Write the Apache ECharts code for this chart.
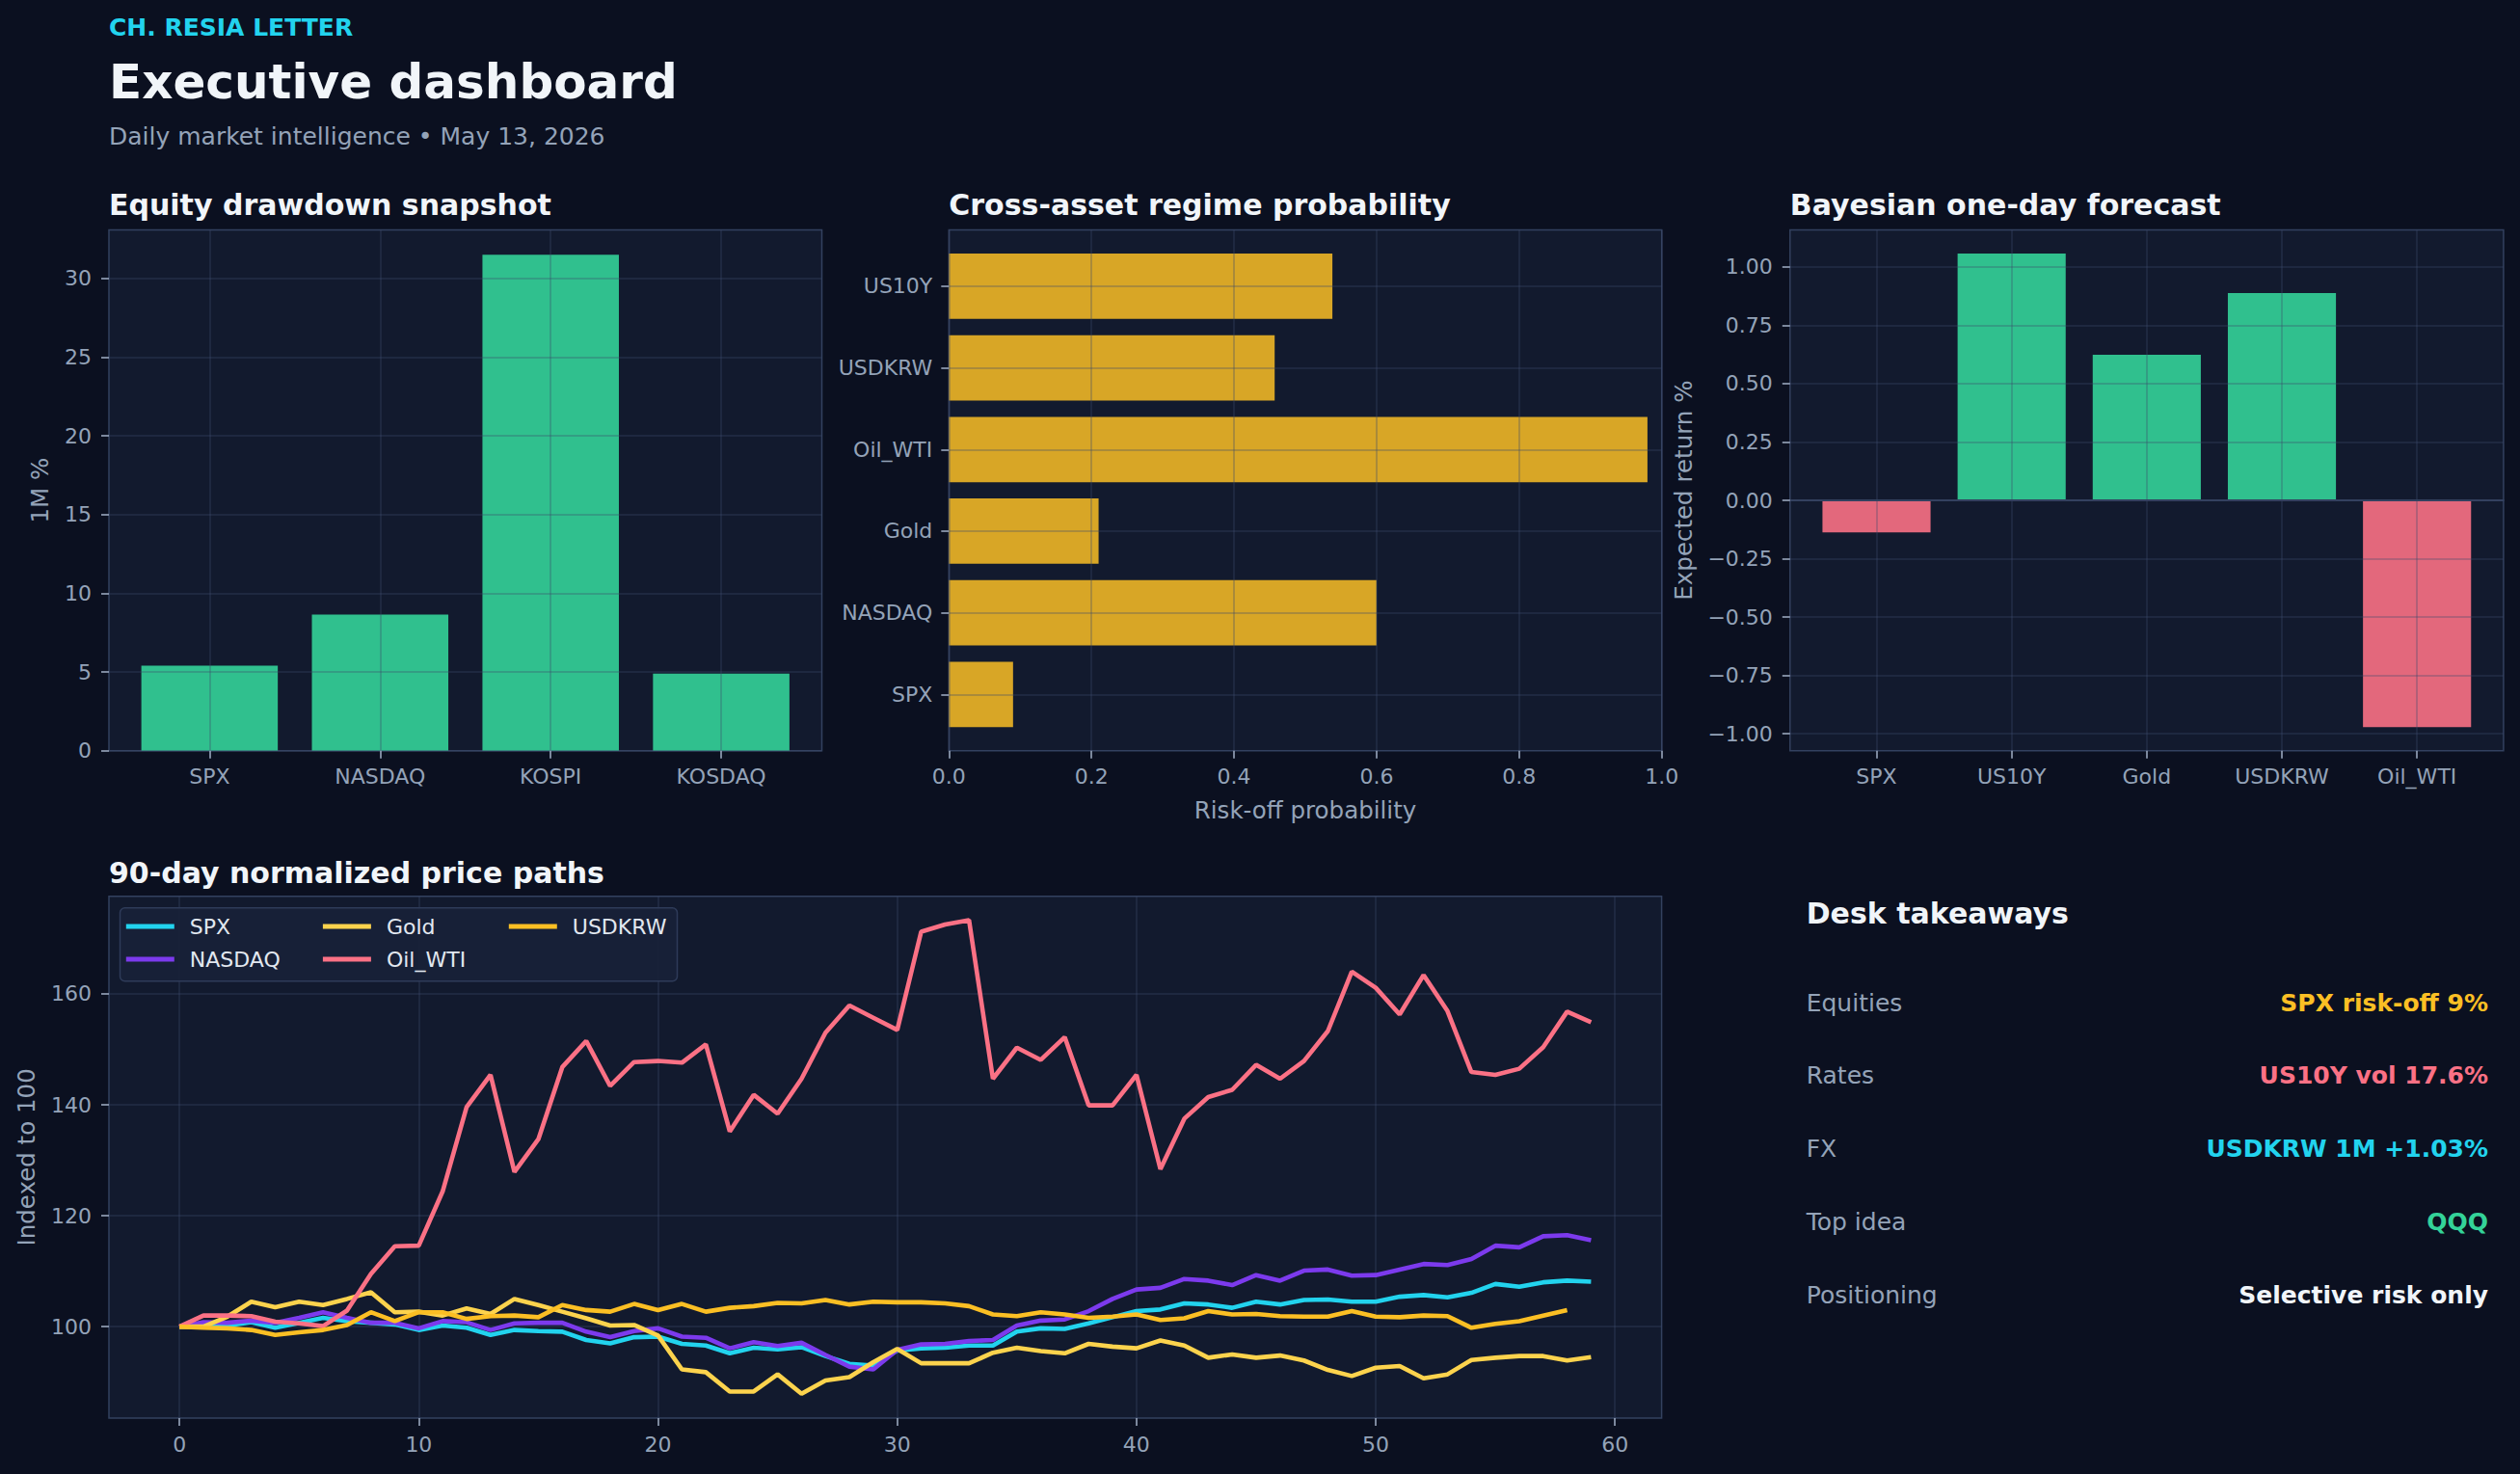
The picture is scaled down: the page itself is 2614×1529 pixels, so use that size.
<!DOCTYPE html>
<html><head><meta charset="utf-8">
<script src="https://cdn.jsdelivr.net/npm/echarts@6/dist/echarts.min.js"></script>
<style>html,body{margin:0;padding:0;background:#0b1020;}#c{width:2614px;height:1529px;}</style>
</head><body><div id="c"></div>
<script>
// ---------- data ----------
const equityCats = ['SPX', 'NASDAQ', 'KOSPI', 'KOSDAQ'];
const equityValues = [5.4, 8.65, 31.5, 4.9];
const equityTicks = [0, 5, 10, 15, 20, 25, 30];

const regimeCats = ['SPX', 'NASDAQ', 'Gold', 'Oil_WTI', 'USDKRW', 'US10Y'];
const regimeValues = [0.09, 0.60, 0.21, 0.98, 0.457, 0.538];
const regimeTicks = [0, 0.2, 0.4, 0.6, 0.8, 1.0];

const forecastCats = ['SPX', 'US10Y', 'Gold', 'USDKRW', 'Oil_WTI'];
const forecastValues = [-0.137, 1.057, 0.624, 0.888, -0.971];
const forecastTicks = [-1, -0.75, -0.5, -0.25, 0, 0.25, 0.5, 0.75, 1];

const pathTicksX = [0, 10, 20, 30, 40, 50, 60];
const pathTicksY = [100, 120, 140, 160];
const spxPath = [100, 100.1, 100.2, 100.8, 99.8, 100.7, 101.6, 101.0, 100.7, 100.4, 99.4, 100.2, 99.8, 98.5, 99.4, 99.2, 99.1, 97.6, 97.0, 98.1, 98.2, 96.9, 96.6, 95.2, 96.2, 95.9, 96.3, 94.7, 93.3, 93.0, 95.7, 96.1, 96.2, 96.6, 96.6, 99.1, 99.7, 99.6, 100.6, 101.7, 102.8, 103.1, 104.2, 104.0, 103.4, 104.5, 104.0, 104.8, 104.9, 104.5, 104.5, 105.4, 105.7, 105.3, 106.1, 107.7, 107.2, 108.0, 108.3, 108.1];
const nasdaqPath = [100, 100.8, 100.7, 101.1, 100.7, 101.6, 102.6, 101.6, 100.7, 100.7, 99.7, 101.0, 100.8, 99.4, 100.6, 100.7, 100.7, 99.1, 98.1, 99.2, 99.7, 98.2, 98.0, 96.1, 97.2, 96.5, 97.1, 94.9, 92.8, 92.3, 95.8, 96.8, 96.9, 97.4, 97.6, 100.2, 101.1, 101.3, 102.8, 105.0, 106.7, 107.0, 108.6, 108.3, 107.5, 109.3, 108.3, 110.1, 110.3, 109.2, 109.3, 110.3, 111.3, 111.1, 112.2, 114.6, 114.3, 116.3, 116.5, 115.6];
const goldPath = [100, 100.0, 101.8, 104.5, 103.5, 104.5, 103.9, 105.0, 106.2, 102.6, 102.7, 102.0, 103.3, 102.3, 105.0, 103.9, 102.7, 101.5, 100.2, 100.3, 98.4, 92.3, 91.8, 88.3, 88.3, 91.4, 87.9, 90.3, 90.9, 93.6, 96.0, 93.4, 93.4, 93.4, 95.3, 96.2, 95.6, 95.2, 96.9, 96.4, 96.1, 97.5, 96.6, 94.4, 95.0, 94.4, 94.8, 93.9, 92.2, 91.1, 92.6, 92.9, 90.7, 91.4, 94.0, 94.4, 94.7, 94.7, 93.9, 94.5];
const oilPath = [100, 102.0, 102.0, 101.9, 100.9, 100.6, 100.1, 102.9, 109.5, 114.5, 114.6, 124.4, 139.6, 145.4, 127.9, 133.8, 146.8, 151.5, 143.4, 147.7, 147.9, 147.6, 150.9, 135.2, 141.8, 138.4, 144.7, 153.0, 157.9, 155.7, 153.5, 171.2, 172.5, 173.3, 144.7, 150.3, 148.1, 152.2, 139.9, 139.9, 145.4, 128.4, 137.5, 141.4, 142.7, 147.2, 144.7, 147.9, 153.3, 164.0, 161.1, 156.3, 163.4, 156.9, 145.9, 145.4, 146.5, 150.4, 156.8, 154.9];
const usdkrwPath = [100, 99.8, 99.7, 99.4, 98.5, 99.0, 99.4, 100.3, 102.6, 101.0, 102.6, 102.6, 101.4, 101.9, 102.0, 101.7, 103.9, 103.0, 102.7, 104.1, 103.0, 104.1, 102.7, 103.4, 103.7, 104.3, 104.2, 104.8, 104.0, 104.5, 104.4, 104.4, 104.2, 103.7, 102.2, 101.9, 102.6, 102.2, 101.6, 101.8, 102.2, 101.2, 101.5, 102.8, 102.2, 102.3, 101.9, 101.8, 101.8, 102.8, 101.8, 101.7, 102.0, 101.9, 99.8, 100.5, 101.0, 102.0, 103.0];

const takeawayLabels = ['Equities', 'Rates', 'FX', 'Top idea', 'Positioning'];
const takeawayValues = ['SPX risk-off 9%', 'US10Y vol 17.6%', 'USDKRW 1M +1.03%', 'QQQ', 'Selective risk only'];

// ---------- style ----------
const FONT = '"DejaVu Sans", sans-serif';
const LBL = { color: '#94a3b8', fontSize: 22, fontFamily: FONT };
const TICKSTYLE = { length: 8, lineStyle: { color: '#a3b0c7', width: 1.5 } };
const SPLIT = { show: true, lineStyle: { color: 'rgba(59,74,107,0.4)', width: 1.5 } };
const NAME = { color: '#94a3b8', fontSize: 24.5, fontFamily: FONT };
const NOLINE = { show: false, onZero: false };
const GRIDBOX = { show: true, backgroundColor: '#121a2e', borderColor: '#33415f', borderWidth: 1.5 };
const GREEN = 'rgba(52,211,153,0.9)';
const RED = 'rgba(251,113,133,0.9)';
const takeawayColors = ['#fbbf24', '#fb7185', '#22d3ee', '#34d399', '#f1f5f9'];
const pathColors = { SPX: '#22d3ee', NASDAQ: '#7c3aed', Gold: '#fcd34d', Oil_WTI: '#fb7185', USDKRW: '#fbbf24' };

function inList(list, v) { return list.some(t => Math.abs(t - v) < 1e-6); }
function fmtSigned(v) { if (Math.abs(v) < 1e-9) return '0.00'; return (v < 0 ? '\u2212' : '') + Math.abs(v).toFixed(2); }

// layout (px)
const P1 = { left: 113, top: 238.5, width: 739.5, height: 540.2 };
const P2 = { left: 984.3, top: 238.5, width: 739.4, height: 540.2 };
const P3 = { left: 1856.8, top: 238.5, width: 740.1, height: 540.2 };
const P4 = { left: 113, top: 929.7, width: 1610.6, height: 541.4 };
const u1 = P1.width / 4.18, u2 = P2.height / 6.38, u3 = P3.width / 5.28;

const chart = echarts.init(document.getElementById('c'), null, { renderer: 'svg', width: 2614, height: 1529 });

const pathSeries = [
  ['SPX', spxPath], ['NASDAQ', nasdaqPath], ['Gold', goldPath], ['Oil_WTI', oilPath], ['USDKRW', usdkrwPath]
].map(([name, arr]) => ({
  type: 'line', name, xAxisIndex: 6, yAxisIndex: 6,
  data: arr.map((v, i) => [i, v]),
  symbol: 'none', showSymbol: false,
  lineStyle: { width: 4.6, color: pathColors[name] },
  itemStyle: { color: pathColors[name] },
  emphasis: { disabled: true }
}));

const legendBase = {
  orient: 'vertical', top: 950, itemWidth: 50, itemHeight: 5, itemGap: 12, icon: 'rect', padding: 0,
  selectedMode: false, z: 20,
  textStyle: { color: '#e2e8f0', fontSize: 22, fontFamily: FONT, padding: [0, 0, 0, 11] }
};

const titleText = (x, y, text) => ({
  type: 'text', x, y, silent: true, z: 100,
  style: { text, fill: '#f1f5f9', fontSize: 30, fontWeight: 'bold', fontFamily: FONT, verticalAlign: 'middle', align: 'left' }
});

const graphics = [
  { type: 'text', x: 113, y: 28.8, silent: true, style: { text: 'CH. RESIA LETTER', fill: '#22d3ee', fontSize: 25, fontWeight: 'bold', fontFamily: FONT, verticalAlign: 'middle' } },
  { type: 'text', x: 113, y: 85, silent: true, style: { text: 'Executive dashboard', fill: '#f1f5f9', fontSize: 50, fontWeight: 'bold', fontFamily: FONT, verticalAlign: 'middle' } },
  { type: 'text', x: 113, y: 141, silent: true, style: { text: 'Daily market intelligence \u2022 May 13, 2026', fill: '#94a3b8', fontSize: 25, fontFamily: FONT, verticalAlign: 'middle' } },
  titleText(113, 212, 'Equity drawdown snapshot'),
  titleText(984.3, 212, 'Cross-asset regime probability'),
  titleText(1856.8, 212, 'Bayesian one-day forecast'),
  titleText(113, 905, '90-day normalized price paths'),
  titleText(1873.7, 947.5, 'Desk takeaways'),
  { type: 'rect', silent: true, z: 10, shape: { x: 124.5, y: 941.7, width: 578, height: 76, r: 5 },
    style: { fill: 'rgba(24,33,56,0.95)', stroke: '#2e3b59', lineWidth: 1.5 } }
];
takeawayLabels.forEach((lab, i) => {
  const y = 1040 + i * 75.75;
  graphics.push({ type: 'text', x: 1873.7, y, silent: true, style: { text: lab, fill: '#94a3b8', fontSize: 25, fontFamily: FONT, verticalAlign: 'middle', align: 'left' } });
  graphics.push({ type: 'text', x: 2581, y, silent: true, style: { text: takeawayValues[i], fill: takeawayColors[i], fontSize: 25, fontWeight: 'bold', fontFamily: FONT, verticalAlign: 'middle', align: 'right' } });
});

const option = {
  backgroundColor: '#0b1020',
  animation: false,
  textStyle: { fontFamily: FONT },
  grid: [
    Object.assign({}, P1, GRIDBOX),
    { left: P1.left + 0.59 * u1, top: P1.top, width: 3 * u1, height: P1.height },
    Object.assign({}, P2, GRIDBOX),
    { left: P2.left, top: P2.top + 0.69 * u2, width: P2.width, height: 5 * u2 },
    Object.assign({}, P3, GRIDBOX),
    { left: P3.left + 0.64 * u3, top: P3.top, width: 4 * u3, height: P3.height },
    Object.assign({}, P4, GRIDBOX)
  ],
  xAxis: [
    { gridIndex: 0, type: 'value', min: 0, max: 1, show: false },
    { gridIndex: 1, type: 'category', data: equityCats, boundaryGap: false, z: 3,
      axisLine: NOLINE, axisTick: Object.assign({ show: true }, TICKSTYLE),
      axisLabel: Object.assign({ margin: 16, interval: 0 }, LBL), splitLine: SPLIT },
    { gridIndex: 2, type: 'value', min: 0, max: 1, interval: 0.2, z: 3,
      axisLine: NOLINE, axisTick: Object.assign({ show: true, customValues: regimeTicks }, TICKSTYLE),
      axisLabel: Object.assign({ margin: 16, customValues: regimeTicks, formatter: v => v.toFixed(1) }, LBL),
      splitLine: SPLIT,
      name: 'Risk-off probability', nameLocation: 'middle', nameGap: 49, nameTextStyle: NAME },
    { gridIndex: 3, type: 'value', min: 0, max: 1, show: false },
    { gridIndex: 4, type: 'value', min: 0, max: 1, z: 3,
      axisLine: { show: true, onZero: true, lineStyle: { color: '#33415f', width: 2 } },
      axisTick: { show: false }, axisLabel: { show: false }, splitLine: { show: false } },
    { gridIndex: 5, type: 'category', data: forecastCats, boundaryGap: false, z: 3,
      axisLine: NOLINE, axisTick: Object.assign({ show: true }, TICKSTYLE),
      axisLabel: Object.assign({ margin: 16, interval: 0 }, LBL), splitLine: SPLIT },
    { gridIndex: 6, type: 'value', min: -2.95, max: 61.95, minInterval: 10, maxInterval: 10,
      axisLine: NOLINE, axisTick: Object.assign({ show: true, customValues: pathTicksX }, TICKSTYLE),
      axisLabel: Object.assign({ margin: 16, customValues: pathTicksX, formatter: v => inList(pathTicksX, v) ? String(Math.round(v)) : '' }, LBL),
      splitLine: SPLIT }
  ],
  yAxis: [
    { gridIndex: 0, type: 'value', min: 0, max: 33.075, minInterval: 5, maxInterval: 5, z: 3,
      axisLine: NOLINE, axisTick: Object.assign({ show: true, customValues: equityTicks }, TICKSTYLE),
      axisLabel: Object.assign({ margin: 18, customValues: equityTicks, formatter: v => inList(equityTicks, v) ? String(Math.round(v)) : '' }, LBL),
      splitLine: SPLIT,
      name: '1M %', nameLocation: 'middle', nameGap: 59, nameTextStyle: NAME },
    { gridIndex: 1, type: 'value', min: 0, max: 33.075, show: false },
    { gridIndex: 2, type: 'value', min: 0, max: 1, show: false },
    { gridIndex: 3, type: 'category', data: regimeCats, boundaryGap: false, z: 3,
      axisLine: NOLINE, axisTick: Object.assign({ show: true }, TICKSTYLE),
      axisLabel: Object.assign({ margin: 17, interval: 0 }, LBL), splitLine: SPLIT },
    { gridIndex: 4, type: 'value', min: -1.0724, max: 1.1584, minInterval: 0.25, maxInterval: 0.25, z: 3,
      axisLine: NOLINE, axisTick: Object.assign({ show: true, customValues: forecastTicks }, TICKSTYLE),
      axisLabel: Object.assign({ margin: 18, customValues: forecastTicks, formatter: v => inList(forecastTicks, v) ? fmtSigned(v) : '' }, LBL),
      splitLine: SPLIT,
      name: 'Expected return %', nameLocation: 'middle', nameGap: 97.5, nameTextStyle: NAME },
    { gridIndex: 5, type: 'value', min: -1.0724, max: 1.1584, show: false },
    { gridIndex: 6, type: 'value', min: 83.5, max: 177.6, minInterval: 20, maxInterval: 20,
      axisLine: NOLINE, axisTick: Object.assign({ show: true, customValues: pathTicksY }, TICKSTYLE),
      axisLabel: Object.assign({ margin: 18, customValues: pathTicksY, formatter: v => inList(pathTicksY, v) ? String(Math.round(v)) : '' }, LBL),
      splitLine: SPLIT,
      name: 'Indexed to 100', nameLocation: 'middle', nameGap: 73, nameTextStyle: NAME }
  ],
  legend: [
    Object.assign({}, legendBase, { left: 130.8, data: ['SPX', 'NASDAQ'] }),
    Object.assign({}, legendBase, { left: 334.9, data: ['Gold', 'Oil_WTI'] }),
    Object.assign({}, legendBase, { left: 527.8, data: ['USDKRW'] })
  ],
  series: [
    { type: 'bar', xAxisIndex: 1, yAxisIndex: 1, data: equityValues, barWidth: '80%', clip: false,
      itemStyle: { color: GREEN }, emphasis: { disabled: true } },
    { type: 'bar', xAxisIndex: 3, yAxisIndex: 3, data: regimeValues, barWidth: '80%', clip: false,
      itemStyle: { color: 'rgba(251,191,36,0.85)' }, emphasis: { disabled: true } },
    { type: 'bar', xAxisIndex: 5, yAxisIndex: 5, barWidth: '80%', clip: false, emphasis: { disabled: true },
      data: forecastValues.map(v => ({ value: v, itemStyle: { color: v >= 0 ? GREEN : RED } })) }
  ].concat(pathSeries),
  graphic: { elements: graphics }
};
chart.setOption(option);
</script></body></html>
